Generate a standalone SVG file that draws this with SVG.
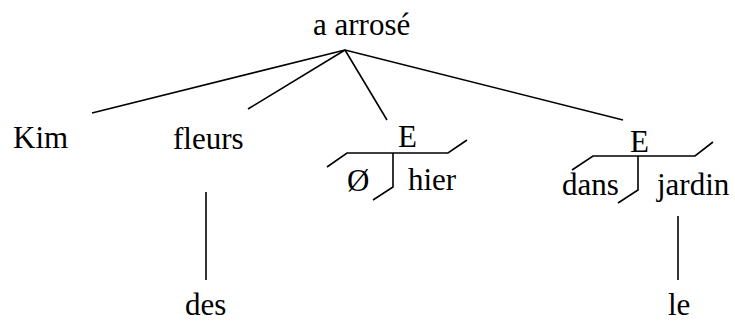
<svg xmlns="http://www.w3.org/2000/svg" width="735" height="322" viewBox="0 0 735 322">
<style>
text{font-family:"Liberation Serif","Times New Roman",serif;font-size:31px;fill:#000}
.l{stroke:#000;stroke-width:1.6;fill:none}
</style>
<rect width="735" height="322" fill="#fff"/>
<g id="connectors">
<line class="l" x1="345" y1="50" x2="92" y2="113"/>
<line class="l" x1="345" y1="50" x2="248" y2="109"/>
<line class="l" x1="345" y1="50" x2="387" y2="120"/>
<line class="l" x1="345" y1="50" x2="623" y2="120"/>
<line class="l" x1="206" y1="192" x2="206" y2="280"/>
<line class="l" x1="678" y1="216" x2="678" y2="280"/>
</g>
<g id="root"><text x="313" y="35">a arrosé</text></g>
<g id="kim"><text x="13" y="148">Kim</text></g>
<g id="fleurs"><text x="173" y="149">fleurs</text></g>
<g id="des"><text x="185" y="315">des</text></g>
<g id="E1">
<text x="398" y="147">E</text>
<polyline class="l" points="327,167 347,153 448,153 467,140"/>
<polyline class="l" points="393,153 393,187 373,200"/>
<text x="347" y="191">Ø</text>
<text x="408" y="190">hier</text>
</g>
<g id="E2">
<text x="630" y="152">E</text>
<polyline class="l" points="572,170 593,156 695,156 713,142"/>
<polyline class="l" points="638,156 638,190 618,203"/>
<text x="562" y="195">dans</text>
<text x="657" y="195">jardin</text>
</g>
<g id="le"><text x="668" y="315">le</text></g>
</svg>
